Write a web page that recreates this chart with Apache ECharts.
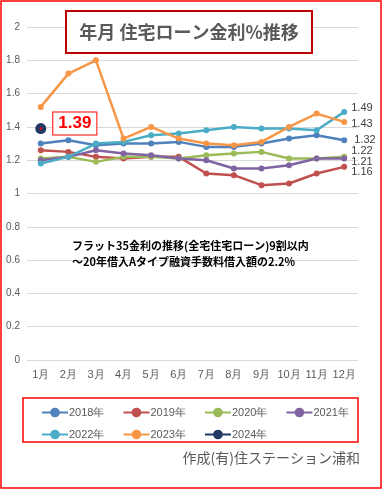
<!DOCTYPE html>
<html><head><meta charset="utf-8">
<script src="https://cdn.jsdelivr.net/npm/echarts@6/dist/echarts.min.js"></script>
<style>html,body{margin:0;padding:0;background:#fff}#c{width:383px;height:490px}</style>
</head><body><div id="c"></div>
<script>
var months = ['1月','2月','3月','4月','5月','6月','7月','8月','9月','10月','11月','12月'];
var r2018 = [1.30,1.32,1.29,1.30,1.30,1.31,1.28,1.28,1.30,1.33,1.35,1.32];
var r2019 = [1.26,1.25,1.22,1.21,1.22,1.22,1.12,1.11,1.05,1.06,1.12,1.16];
var r2020 = [1.21,1.22,1.19,1.22,1.22,1.21,1.23,1.24,1.25,1.21,1.21,1.22];
var r2021 = [1.20,1.22,1.26,1.24,1.23,1.21,1.20,1.15,1.15,1.17,1.21,1.21];
var r2022 = [1.18,1.22,1.30,1.31,1.35,1.36,1.38,1.40,1.39,1.39,1.38,1.49];
var r2023 = [1.52,1.72,1.80,1.33,1.40,1.33,1.30,1.29,1.31,1.40,1.48,1.43];
var r2024 = [1.39];
var yTicks = {min:0, max:2, step:0.2};

var names = ['2018年','2019年','2020年','2021年','2022年','2023年','2024年'];
var datas = [r2018,r2019,r2020,r2021,r2022,r2023,r2024];
var colors = ['#4f81bd','#c0504d','#9bbb59','#8064a2','#4bacc6','#f79646','#1f3864'];
var endOffsets = [[3,0],[0,5],[0,-6],[0,3],[0,-4],[0,2]];

var series = datas.map(function(d,i){
  var data = d.map(function(v,j){
    var item = {value:v};
    if (i < 6 && j === d.length-1) {
      item.label = {show:true, position:'right', distance:4, offset:endOffsets[i],
        color:'#404040', fontSize:11, fontFamily:'Liberation Sans', formatter:function(p){return p.value.toFixed(2);}};
    }
    if (i === 6) {
      item.label = {show:true, position:'right', distance:7, offset:[0,-5],
        color:'#ff0000', fontSize:17, fontWeight:'bold', fontFamily:'Liberation Sans',
        backgroundColor:'#fff', borderColor:'#ff0000', borderWidth:1, padding:[3,5,2,5],
        formatter:function(p){return p.value.toFixed(2);}};
    }
    return item;
  });
  return {
    name:names[i], type:'line', data:data, color:colors[i],
    symbol:'circle', symbolSize: i===6 ? 11 : 6,
    lineStyle:{width:2.5, color:colors[i]},
    itemStyle:{color:colors[i]},
    z: i===6 ? 5 : 2,
    animation:false
  };
});
series.push({name:'dot', type:'scatter', data:[r2024[0]], symbol:'circle', symbolSize:3,
  itemStyle:{color:'#ff0000'}, z:10, silent:true, animation:false});

var legendCommon = {itemWidth:26, itemHeight:12, itemGap:18,
  textStyle:{color:'#595959', fontSize:11, fontFamily:'Liberation Sans', padding:[0,0,0,-4]}};

var chart = echarts.init(document.getElementById('c'), null, {renderer:'canvas'});
chart.setOption({
  backgroundColor:'#fff',
  animation:false,
  grid:{left:27, right:25, top:27, bottom:130},
  xAxis:{type:'category', data:months, boundaryGap:true,
    axisLine:{show:false}, axisTick:{show:false},
    axisLabel:{interval:0, hideOverlap:false, color:'#595959', fontSize:11, fontFamily:'Liberation Sans', margin:9}},
  yAxis:{type:'value', min:yTicks.min, max:yTicks.max, interval:yTicks.step,
    axisLine:{show:false}, axisTick:{show:false},
    splitLine:{lineStyle:{color:'#d9d9d9', width:1}},
    axisLabel:{color:'#595959', fontSize:10, fontFamily:'Liberation Sans', margin:7,
      formatter:function(v){return String(Math.round(v*10)/10);}}},
  legend:[
    Object.assign({}, legendCommon, {data:names.slice(0,4), left:36, top:402}),
    Object.assign({}, legendCommon, {data:names.slice(4,7), left:36, top:424})
  ],
  series:series,
  graphic:[
    {type:'rect', shape:{x:1, y:1, width:380, height:487}, style:{fill:'none', stroke:'#ff0000', lineWidth:1.5}, z:100, silent:true},
    {type:'rect', shape:{x:66, y:11, width:246, height:42}, style:{fill:'#fff', stroke:'#c00000', lineWidth:2}, z:50},
    {type:'text', x:189, y:32, style:{text:'年月 住宅ローン金利%推移', fill:'#595959', font:'bold 18px "Noto Sans CJK JP"', textAlign:'center', textVerticalAlign:'middle'}, z:51},
    {type:'text', x:72, y:246, style:{text:'フラット35金利の推移(全宅住宅ローン)9割以内', fill:'#000', font:'bold 11px "Noto Sans CJK JP"', textVerticalAlign:'middle'}, z:51},
    {type:'text', x:72, y:262, style:{text:'～20年借入Aタイプ融資手数料借入額の2.2%', fill:'#000', font:'bold 11px "Noto Sans CJK JP"', textVerticalAlign:'middle'}, z:51},
    {type:'rect', shape:{x:23, y:398, width:335, height:44}, style:{fill:'none', stroke:'#ff0000', lineWidth:1.5}, z:50},
    {type:'text', x:360, y:458, style:{text:'作成(有)住ステーション浦和', fill:'#595959', font:'14px "Noto Sans CJK JP"', textAlign:'right', textVerticalAlign:'middle'}, z:51}
  ]
});
</script>
</body></html>
